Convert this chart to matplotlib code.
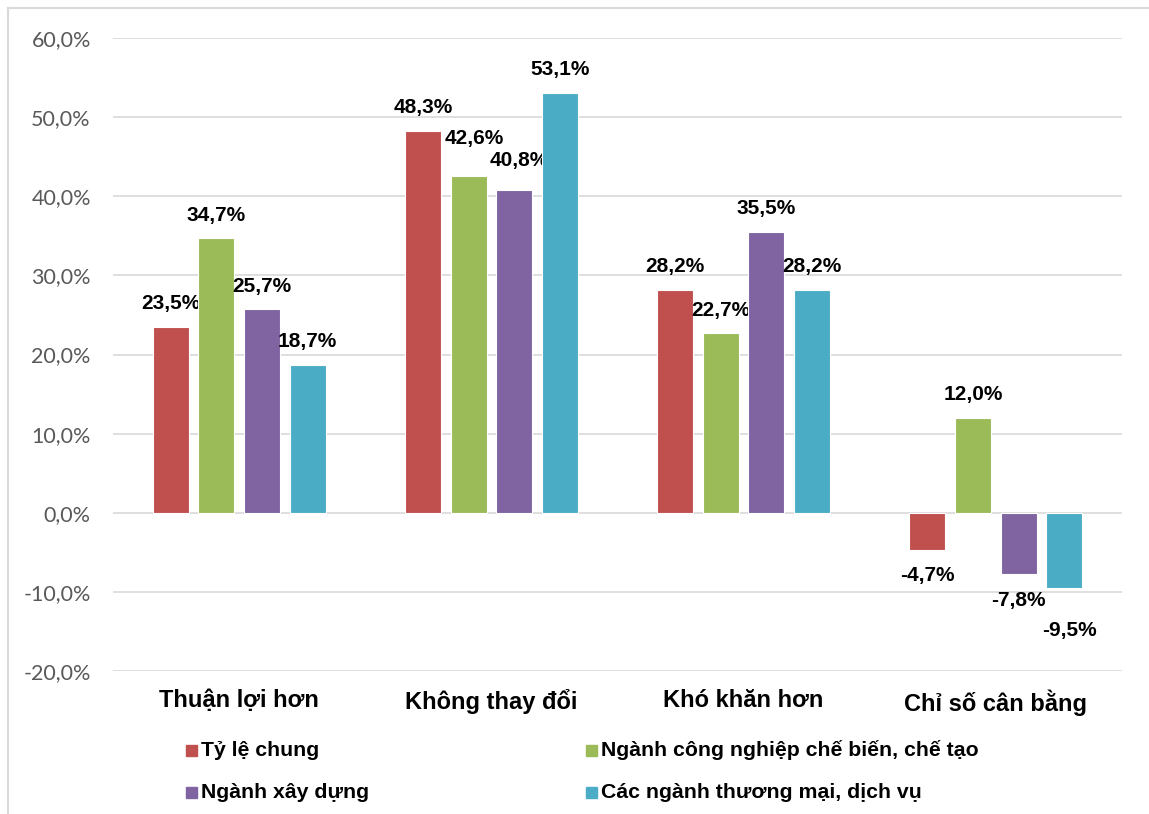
import numpy as np
import matplotlib.pyplot as plt
from matplotlib.patches import Rectangle

categories = ["Thuận lợi hơn", "Không thay đổi", "Khó khăn hơn", "Chỉ số cân bằng"]
series_names = ["Tỷ lệ chung", "Ngành công nghiệp chế biến, chế tạo",
                "Ngành xây dựng", "Các ngành thương mại, dịch vụ"]
ty_le_chung = [23.5, 48.3, 28.2, -4.7]
cong_nghiep = [34.7, 42.6, 22.7, 12.0]
xay_dung = [25.7, 40.8, 35.5, -7.8]
thuong_mai = [18.7, 53.1, 28.2, -9.5]
y_ticks = [-20, -10, 0, 10, 20, 30, 40, 50, 60]

colors = ["#C0504D", "#9BBB59", "#8064A2", "#4BACC6"]
series = [ty_le_chung, cong_nghiep, xay_dung, thuong_mai]

# small manual nudges for labels (pixels), like the excel chart
nudges = {(1, 1): (6, 14), (2, 1): (5, 6), (3, 3): (5, -17)}

plt.rcParams['font.family'] = ['Liberation Sans', 'DejaVu Sans']

fig = plt.figure(figsize=(11.49, 8.14), dpi=100)
ax = fig.add_axes([113/1149, 143/814, 1009/1149, 633/814])

x = np.arange(len(categories))
step = 0.181
width = 0.143
for i, vals in enumerate(series):
    pos = x + (i - 1.5) * step
    bars = ax.bar(pos, vals, width, color=colors[i], edgecolor="white", linewidth=0.8, zorder=3)
    for j, v in enumerate(vals):
        dx, dy = nudges.get((i, j), (0, 0))
        lab = ("%.1f%%" % v).replace(".", ",")
        if v >= 0:
            ax.annotate(lab, (pos[j], v), xytext=(dx, 23 + dy), textcoords="offset pixels",
                        ha="center", va="center", fontsize=15, fontweight="bold")
        else:
            ax.annotate(lab, (pos[j], v), xytext=(dx, -26 + dy), textcoords="offset pixels",
                        ha="center", va="center", fontsize=15, fontweight="bold")

ax.set_xlim(-0.5, 3.5)
ax.set_ylim(-20, 60)
ax.set_yticks(y_ticks)
ax.set_yticklabels([("%.1f%%" % t).replace(".", ",") for t in y_ticks],
                   fontsize=15.5, color="#595959", family=["Lato", "DejaVu Sans"])
ax.set_xticks(x)
ax.set_xticklabels(categories, fontsize=17, fontweight="bold")
ax.tick_params(axis="both", length=0)
ax.tick_params(axis="y", pad=16)
ax.tick_params(axis="x", pad=13)
ax.grid(axis="y", color="#D9D9D9", linewidth=1.2, zorder=0)
for s in ax.spines.values():
    s.set_visible(False)

# legend drawn by hand, 2 x 2
leg_pos = [(190, 750), (590, 750), (190, 792), (590, 792)]
for k in range(4):
    lx, ly = leg_pos[k]
    fig.patches.append(Rectangle(((lx - 4) / 1149, (814 - ly - 5.5) / 814), 11 / 1149, 11 / 814,
                                 transform=fig.transFigure, color=colors[k]))
    fig.text((lx + 11) / 1149, (814 - ly) / 814, series_names[k], fontsize=15.3,
             fontweight="bold", va="center", ha="left")

# chart area border (cut off on the right and bottom)
fig.add_artist(plt.Line2D([8/1149, 8/1149], [0, 1 - 8/814], color="#D9D9D9", linewidth=1.5,
                          transform=fig.transFigure))
fig.add_artist(plt.Line2D([8/1149, 1], [1 - 8/814, 1 - 8/814], color="#D9D9D9", linewidth=1.5,
                          transform=fig.transFigure))

fig.savefig("out.png", dpi=100)
